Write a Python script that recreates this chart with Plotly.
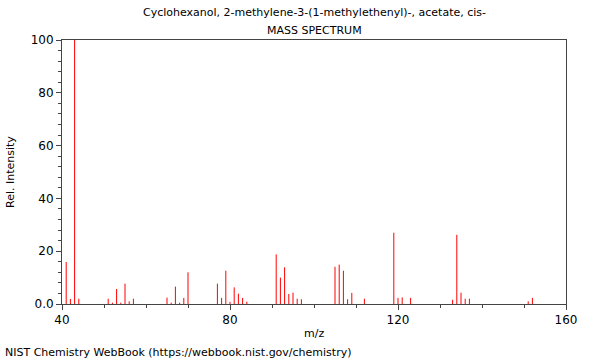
import plotly.graph_objects as go

mz = [41, 42, 43, 44, 51, 52, 53, 54, 55, 56, 57, 65, 66, 67, 68, 69, 70, 77, 78, 79, 80,
      81, 82, 83, 84, 91, 92, 93, 94, 95, 96, 97, 105, 106, 107, 108, 109, 112, 119, 120,
      121, 123, 133, 134, 135, 136, 137, 151, 152]
intensity = [15.9, 1.9, 100, 2.0, 2.0, 0.5, 5.7, 0.5, 7.7, 1.0, 2.0, 2.4, 0.5, 6.6, 0.5, 2.3,
             12.0, 7.7, 2.3, 12.6, 0.8, 6.3, 3.9, 2.3, 0.9, 18.8, 10.0, 13.9, 3.8, 4.3, 2.0,
             1.8, 14.1, 14.9, 12.6, 1.8, 4.2, 2.0, 27.0, 2.3, 2.5, 2.3, 1.6, 26.2, 4.3, 2.0,
             2.0, 1.0, 2.3]

title = "Cyclohexanol, 2-methylene-3-(1-methylethenyl)-, acetate, cis-"
subtitle = "MASS SPECTRUM"
x_title = "m/z"
y_title = "Rel. Intensity"
footer = "NIST Chemistry WebBook (https://webbook.nist.gov/chemistry)"
y_ticks = [0, 20, 40, 60, 80, 100]
y_ticktext = ["0.0", "20", "40", "60", "80", "100"]
x_ticks = [40, 80, 120, 160]

xs, ys = [], []
for m, v in zip(mz, intensity):
    xs += [m, m, None]
    ys += [0, v, None]

fig = go.Figure()
fig.add_trace(go.Scatter(x=xs, y=ys, mode="lines", line=dict(color="#ff0000", width=1),
                         hoverinfo="skip", showlegend=False))

font = "DejaVu Sans, sans-serif"
L, R, T, B = 62, 34, 40, 56
pw, ph = 600 - L - R, 360 - T - B


def px_to_paper(px, py):
    return (px - L) / pw, (360 - B - py) / ph


def ann(text, px, py, xa="center", angle=0, size=11):
    xp, yp = px_to_paper(px, py)
    return dict(text=text, x=xp, y=yp, xref="paper", yref="paper", showarrow=False,
                xanchor=xa, yanchor="middle", textangle=angle, font=dict(size=size))


fig.update_layout(
    width=600, height=360,
    margin=dict(l=L, r=R, t=T, b=B),
    paper_bgcolor="white", plot_bgcolor="white",
    font=dict(family=font, size=12, color="black"),
    showlegend=False,
    xaxis=dict(range=[40, 160], tickvals=x_ticks, ticks="outside", ticklen=5,
               tickcolor="#444", showline=True, linecolor="#444", linewidth=1, mirror=True,
               showgrid=False, zeroline=False, tickfont=dict(size=12),
               minor=dict(dtick=10, tick0=40, ticks="outside", ticklen=3, tickcolor="#444")),
    yaxis=dict(range=[0, 100], tickvals=y_ticks, ticktext=y_ticktext, ticks="outside",
               ticklen=5, tickcolor="#444", showline=True, linecolor="#444", linewidth=1,
               mirror=True, showgrid=False, zeroline=False, tickfont=dict(size=12),
               minor=dict(dtick=4, tick0=0, ticks="outside", ticklen=3, tickcolor="#444")),
    annotations=[
        ann(title, 314, 13),
        ann(subtitle, 314, 30),
        ann(x_title, 314, 333),
        ann(y_title, 10, 172, angle=-90),
        ann(footer, 3, 352, xa="left"),
    ],
)

fig.write_html("out.html")
